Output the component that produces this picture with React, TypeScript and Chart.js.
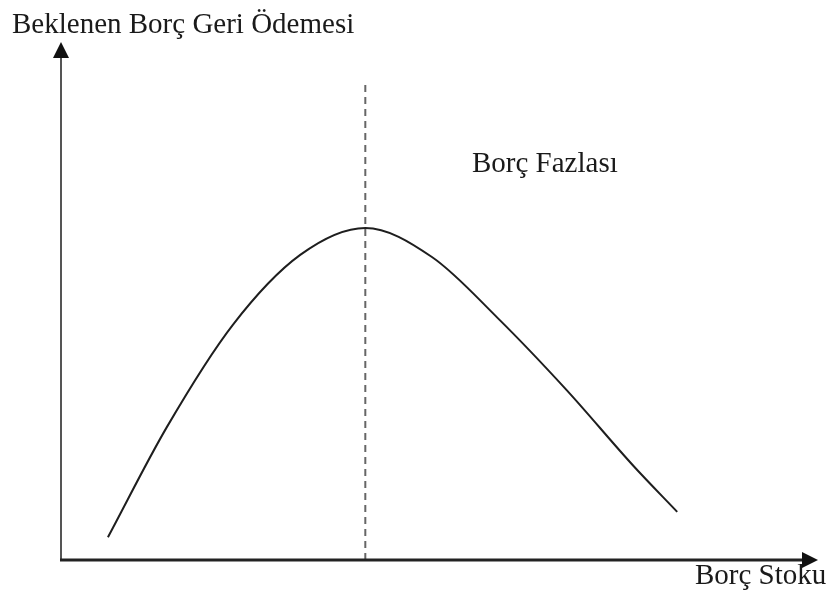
import React, { useEffect, useRef } from "react";
import { Chart, registerables } from "chart.js";

Chart.register(...registerables);

// Debt stock (x, 0-100) vs expected debt repayment (y, 0-100)
const debtStock = [6.2, 14.0, 22.7, 31.6, 40.2, 49.0, 57.7, 66.8, 75.6, 81.4];
const expectedRepayment = [4.4, 25.7, 45.4, 58.9, 64.1, 58.5, 46.7, 32.8, 18.2, 9.3];

const peakX = 40.2;
const dashedLineY = [0, 91.7];

const yAxisTitle = "Beklenen Borç Geri Ödemesi";
const xAxisTitle = "Borç Stoku";
const regionLabel = "Borç Fazlası";

const FONT = '29px "Liberation Serif", "Times New Roman", serif';

const axesPlugin = {
  id: "axesPlugin",
  afterDraw(chart: any) {
    const { ctx, chartArea } = chart;
    const { left, right, top, bottom } = chartArea;
    ctx.save();
    // y axis
    ctx.strokeStyle = "#555";
    ctx.lineWidth = 2;
    ctx.beginPath();
    ctx.moveTo(left, bottom + 1);
    ctx.lineTo(left, top + 10);
    ctx.stroke();
    ctx.fillStyle = "#111";
    ctx.beginPath();
    ctx.moveTo(left, top);
    ctx.lineTo(left - 8, top + 16);
    ctx.lineTo(left + 8, top + 16);
    ctx.closePath();
    ctx.fill();
    // x axis
    ctx.strokeStyle = "#222";
    ctx.lineWidth = 3;
    ctx.beginPath();
    ctx.moveTo(left - 1, bottom);
    ctx.lineTo(right - 10, bottom);
    ctx.stroke();
    ctx.fillStyle = "#111";
    ctx.beginPath();
    ctx.moveTo(right, bottom);
    ctx.lineTo(right - 16, bottom - 8);
    ctx.lineTo(right - 16, bottom + 8);
    ctx.closePath();
    ctx.fill();
    // texts
    ctx.fillStyle = "#1a1a1a";
    ctx.font = FONT;
    ctx.textBaseline = "alphabetic";
    ctx.textAlign = "left";
    ctx.fillText(yAxisTitle, 12, 33);
    ctx.fillText(xAxisTitle, 695, 584);
    ctx.fillText(regionLabel, 472, 172);
    ctx.restore();
  },
};

export default function App() {
  const ref = useRef<HTMLCanvasElement | null>(null);

  useEffect(() => {
    if (!ref.current) return;
    const curve = debtStock.map((x, i) => ({ x, y: expectedRepayment[i] }));
    const dashed = dashedLineY.map((y) => ({ x: peakX, y }));
    const chart = new Chart(ref.current, {
      type: "scatter",
      data: {
        datasets: [
          {
            data: dashed,
            showLine: true,
            borderColor: "#666",
            borderWidth: 2,
            borderDash: [7, 5],
            pointRadius: 0,
          },
          {
            data: curve,
            showLine: true,
            borderColor: "#1e1e1e",
            borderWidth: 2,
            pointRadius: 0,
            cubicInterpolationMode: "monotone",
          },
        ],
      },
      options: {
        animation: false,
        responsive: true,
        maintainAspectRatio: false,
        layout: { padding: { left: 61, right: 12, top: 42, bottom: 35 } },
        plugins: { legend: { display: false }, tooltip: { enabled: false } },
        scales: {
          x: { type: "linear", min: 0, max: 100, display: false },
          y: { type: "linear", min: 0, max: 100, display: false },
        },
      },
      plugins: [axesPlugin],
    });
    return () => chart.destroy();
  }, []);

  return (
    <div style={{ position: "absolute", left: 0, top: 0, width: 830, height: 595, background: "#fff" }}>
      <canvas ref={ref} />
    </div>
  );
}
